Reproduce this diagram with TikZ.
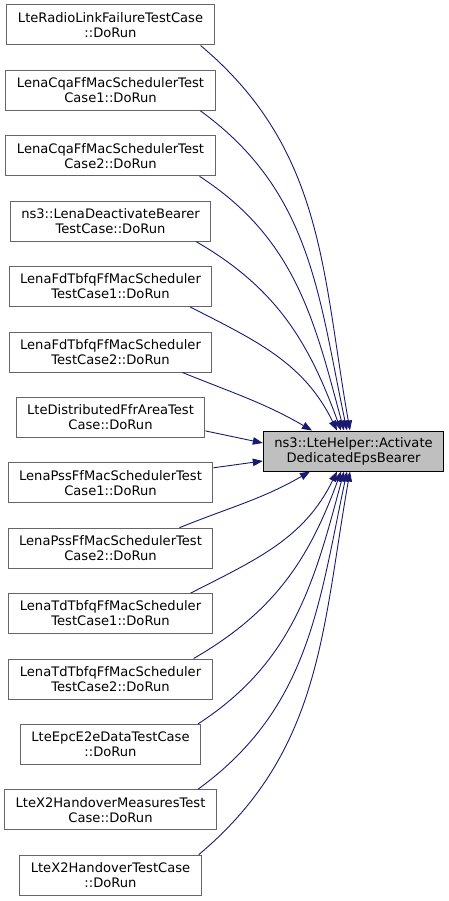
\documentclass[tikz,border=0pt]{standalone}
\usepackage{fontspec}
\setmainfont{DejaVu Sans}
\usepackage{xcolor}
\definecolor{dxedge}{HTML}{191970}
\definecolor{dxframe}{HTML}{666666}
\definecolor{dxhead}{HTML}{BFBFBF}
\usepackage{tikz}
\usetikzlibrary{arrows.meta,positioning}
\tikzset{
  dxcaller/.style={draw=dxframe,line width=1pt,fill=white,inner xsep=11pt,inner ysep=2pt,align=center,font=\fontsize{13.1}{15}\selectfont,minimum height=40pt},
  dxcallee/.style={dxcaller,draw=black,fill=dxhead},
  dxflow/.style={-{Triangle[length=10pt,width=7.5pt]},dxedge,line width=0.9pt},
}
\begin{document}
\begin{tikzpicture}[x=1pt,y=1pt,node distance=24.4pt]
\useasboundingbox (0,0) rectangle (448,-901);
\node[dxcaller] (rl) at (110.5,-25) {LteRadioLinkFailureTestCase\\::DoRun};
\node[dxcaller,below=of rl] (cqa1) {LenaCqaFfMacSchedulerTest\\Case1::DoRun};
\node[dxcaller,below=of cqa1] (cqa2) {LenaCqaFfMacSchedulerTest\\Case2::DoRun};
\node[dxcaller,below=of cqa2] (deact) {ns3::LenaDeactivateBearer\\TestCase::DoRun};
\node[dxcaller,below=of deact] (fd1) {LenaFdTbfqFfMacScheduler\\TestCase1::DoRun};
\node[dxcaller,below=of fd1] (fd2) {LenaFdTbfqFfMacScheduler\\TestCase2::DoRun};
\node[dxcaller,below=of fd2] (ffr) {LteDistributedFfrAreaTest\\Case::DoRun};
\node[dxcaller,below=of ffr] (pss1) {LenaPssFfMacSchedulerTest\\Case1::DoRun};
\node[dxcaller,below=of pss1] (pss2) {LenaPssFfMacSchedulerTest\\Case2::DoRun};
\node[dxcaller,below=of pss2] (td1) {LenaTdTbfqFfMacScheduler\\TestCase1::DoRun};
\node[dxcaller,below=of td1] (td2) {LenaTdTbfqFfMacScheduler\\TestCase2::DoRun};
\node[dxcaller,below=of td2] (e2e) {LteEpcE2eDataTestCase\\::DoRun};
\node[dxcaller,below=of e2e] (x2m) {LteX2HandoverMeasuresTest\\Case::DoRun};
\node[dxcaller,below=of x2m] (x2) {LteX2HandoverTestCase\\::DoRun};
\node[dxcallee] (helper) at (353.5,-451) {ns3::LteHelper::Activate\\DedicatedEpsBearer};
% callers above the helper
\draw[dxflow]([xshift=-14pt]rl.south east) to[out=-40,in=100] ([xshift=-3.5pt]helper.north);
\draw[dxflow]([xshift=-15pt]cqa1.south east) to[out=-36,in=102] ([xshift=-6.5pt]helper.north);
\draw[dxflow]([xshift=-16pt]cqa2.south east) to[out=-33,in=105] ([xshift=-9.5pt]helper.north);
\draw[dxflow]([xshift=-15pt]deact.south east) to[out=-30,in=110] ([xshift=-12.5pt]helper.north);
\draw[dxflow]([xshift=-22pt]fd1.south east) to[out=-27,in=116] ([xshift=-16.5pt]helper.north);
\draw[dxflow]([xshift=-30pt]fd2.south east) to[out=-22,in=150] ([xshift=-41.5pt]helper.north);
% callers level with the helper
\draw[dxflow]([yshift=-13.5pt]ffr.east) -- ([yshift=8pt]helper.west);
\draw[dxflow]([yshift=15pt]pss1.east) -- ([yshift=-10pt]helper.west);
% callers below the helper
\draw[dxflow]([xshift=-34pt]pss2.north east) to[out=22,in=-150] ([xshift=-43.5pt]helper.south);
\draw[dxflow]([xshift=-22pt]td1.north east) to[out=27,in=-116] ([xshift=-16.5pt]helper.south);
\draw[dxflow]([xshift=-19pt]td2.north east) to[out=30,in=-110] ([xshift=-12.5pt]helper.south);
\draw[dxflow]([xshift=-3pt]e2e.north east) to[out=33,in=-105] ([xshift=-9.5pt]helper.south);
\draw[dxflow]([xshift=-19pt]x2m.north east) to[out=36,in=-102] ([xshift=-6.5pt]helper.south);
\draw[dxflow]([xshift=-3pt]x2.north east) to[out=40,in=-100] ([xshift=-3.5pt]helper.south);
\end{tikzpicture}
\end{document}
